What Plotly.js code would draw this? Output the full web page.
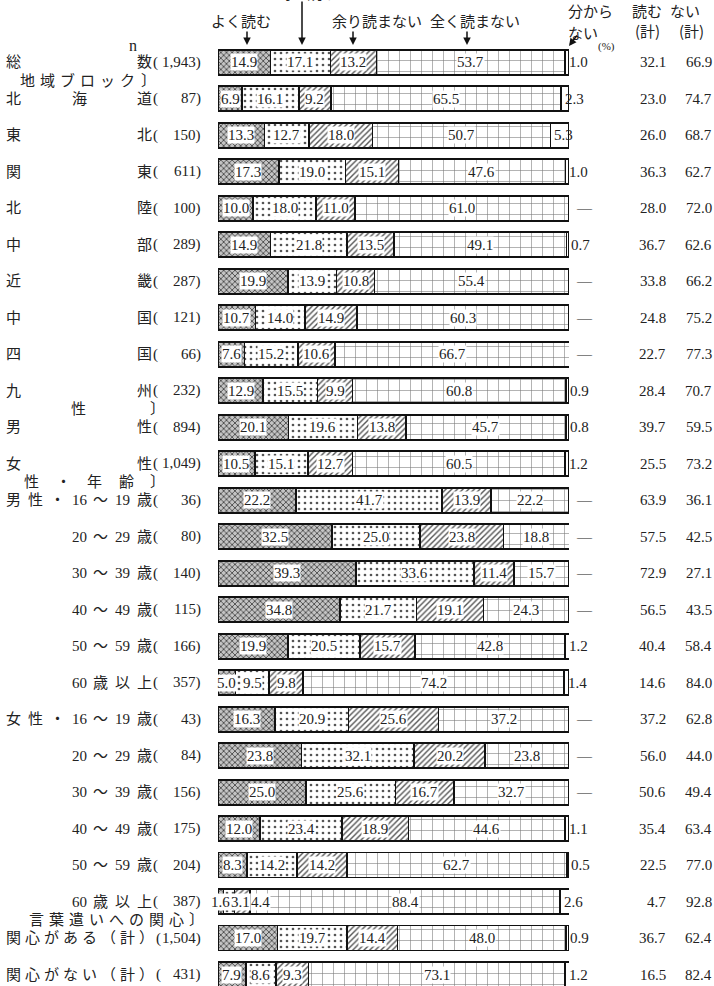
<!DOCTYPE html>
<html><head><meta charset="utf-8">
<script src="https://cdn.plot.ly/plotly-3.0.1.min.js"></script>
<style>html,body{margin:0;padding:0;background:#fff;overflow:hidden;} #chart{width:714px;height:986px;}</style>
</head><body><div id="chart"></div>
<script>
// ---------- data ----------
const categories = ['総数','北海道','東北','関東','北陸','中部','近畿','中国','四国','九州','男性','女性',
  '男性・16～19歳','男性・20～29歳','男性・30～39歳','男性・40～49歳','男性・50～59歳','男性・60歳以上',
  '女性・16～19歳','女性・20～29歳','女性・30～39歳','女性・40～49歳','女性・50～59歳','女性・60歳以上',
  '関心がある（計）','関心がない（計）'];
const rowLabels = ['総数','北海道','東北','関東','北陸','中部','近畿','中国','四国','九州','男性','女性',
  '男性・16～19歳','20～29歳','30～39歳','40～49歳','50～59歳','60歳以上',
  '女性・16～19歳','20～29歳','30～39歳','40～49歳','50～59歳','60歳以上',
  '関心がある（計）','関心がない（計）'];
const nValues = ['1,943','87','150','611','100','289','287','121','66','232','894','1,049',
  '36','80','140','115','166','357','43','84','156','175','204','387','1,504','431'];
const seriesNames = ['よく読む','時々読む','余り読まない','全く読まない','分からない'];
const yokuYomu   = [14.9,6.9,13.3,17.3,10.0,14.9,19.9,10.7,7.6,12.9,20.1,10.5,22.2,32.5,39.3,34.8,19.9,5.0,16.3,23.8,25.0,12.0,8.3,1.6,17.0,7.9];
const tokidoki   = [17.1,16.1,12.7,19.0,18.0,21.8,13.9,14.0,15.2,15.5,19.6,15.1,41.7,25.0,33.6,21.7,20.5,9.5,20.9,32.1,25.6,23.4,14.2,3.1,19.7,8.6];
const amari      = [13.2,9.2,18.0,15.1,11.0,13.5,10.8,14.9,10.6,9.9,13.8,12.7,13.9,23.8,11.4,19.1,15.7,9.8,25.6,20.2,16.7,18.9,14.2,4.4,14.4,9.3];
const mattaku    = [53.7,65.5,50.7,47.6,61.0,49.1,55.4,60.3,66.7,60.8,45.7,60.5,22.2,18.8,15.7,24.3,42.8,74.2,37.2,23.8,32.7,44.6,62.7,88.4,48.0,73.1];
const wakaranai  = [1.0,2.3,5.3,1.0,0,0.7,0,0,0,0.9,0.8,1.2,0,0,0,0,1.2,1.4,0,0,0,1.1,0.5,2.6,0.9,1.2];
const yomuKei    = [32.1,23.0,26.0,36.3,28.0,36.7,33.8,24.8,22.7,28.4,39.7,25.5,63.9,57.5,72.9,56.5,40.4,14.6,37.2,56.0,50.6,35.4,22.5,4.7,36.7,16.5];
const yomanaiKei = [66.9,74.7,68.7,62.7,72.0,62.6,66.2,75.2,77.3,70.7,59.5,73.2,36.1,42.5,27.1,43.5,58.4,84.0,62.8,44.0,49.4,63.4,77.0,92.8,62.4,82.4];
const groupHeaders = ['地域ブロック〕','性〕','性・年齢〕','言葉遣いへの関心〕'];
const groupBefore = [1,10,12,24];
const headerYomu = ['読む','(計)'];
const headerYomanai = ['読ま','ない','(計)'];

// ---------- layout helpers ----------
const L = 218, R = 569, T = 44, B = 986;
const SCALE = (R - L) / 100;
const px = x => (x - L) / (R - L);
const py = y => (B - y) / (B - T);
const SERIF = 'Liberation Serif, Noto Sans CJK JP, serif';
const SANS = 'Noto Sans CJK JP, sans-serif';
const TXT = '#222';
const NUMSIZE = 15;
const textWidth = s => Array.from(s).reduce((a, c) => a + (c === '.' || c === ',' ? NUMSIZE * 0.25 : NUMSIZE * 0.5), 0);

const seriesData = [yokuYomu, tokidoki, amari, mattaku, wakaranai];
const patterns = [
  {shape:'x', fgcolor:'#4a4a4a', bgcolor:'#c4c4c4', size:4, solidity:0.4},
  {shape:'.', fgcolor:'#555', bgcolor:'#ffffff', size:6, solidity:0.16},
  {shape:'/', fgcolor:'#555', bgcolor:'#ffffff', size:4, solidity:0.35},
  {shape:'+', fgcolor:'#777', bgcolor:'#ffffff', size:11, solidity:0.1},
  {shape:'', fgcolor:'#000', bgcolor:'#ffffff'}
];

const traces = seriesData.map((vals, k) => ({
  type:'bar', orientation:'h', name:seriesNames[k], y:categories, x:vals,
  marker:{color:'#ffffff', pattern:patterns[k], line:{color:'#111', width:1.6}},
  hoverinfo:'skip', showlegend:false
}));

const ann = [];
function addText(text, xpx, ypx, opts) {
  ann.push(Object.assign({text, x:px(xpx), y:py(ypx), xref:'paper', yref:'paper', borderpad:0,
    showarrow:false, font:{family:SANS, size:15, color:TXT}, xanchor:'center', yanchor:'middle'}, opts||{}));
}

categories.forEach((cat, i) => {
  // segment labels (pushed right if they would collide with the previous one)
  let cum = 0, prevRight = -1e9;
  for (let k = 0; k < 4; k++) {
    const v = seriesData[k][i];
    const t = v.toFixed(1);
    const w = textWidth(t) + 1;
    const centerPx = (cum + v / 2) * SCALE;
    let shift = 0;
    if (centerPx - w / 2 < prevRight) shift = prevRight - (centerPx - w / 2);
    prevRight = centerPx + shift + w / 2;
    ann.push({text:t, x:cum + v/2, y:cat, xref:'x', yref:'y', showarrow:false, xshift:shift,
      bgcolor:'#ffffff', borderpad:0, font:{family:SERIF, size:NUMSIZE, color:TXT}});
    cum += v;
  }
  const wk = wakaranai[i];
  ann.push({text: wk > 0 ? wk.toFixed(1) : '—', x:100 - wk, y:cat, xref:'x', yref:'y', showarrow:false,
    xanchor:'left', xshift: wk > 0 ? 2 : 5, font:{family:SERIF, size:NUMSIZE, color:TXT}});
  ann.push({text:yomuKei[i].toFixed(1), x:px(668), y:cat, xref:'paper', yref:'y', showarrow:false,
    xanchor:'right', font:{family:SERIF, size:NUMSIZE, color:TXT}});
  ann.push({text:yomanaiKei[i].toFixed(1), x:px(714), y:cat, xref:'paper', yref:'y', showarrow:false,
    xanchor:'right', font:{family:SERIF, size:NUMSIZE, color:TXT}});
  // left labels
  const toks = rowLabels[i].match(/\d+|./g);
  let centers, parenX = 152;
  if (/\d/.test(rowLabels[i])) {
    centers = toks.map((t, j) => 136 - (toks.length - 1 - j) * 21.8);
  } else if (rowLabels[i].indexOf('（') >= 0) {
    centers = toks.map((t, j) => 5 + j * 19);
    parenX = 155;
  } else {
    centers = toks.map((t, j) => 5 + j * (131 / (toks.length - 1)));
  }
  toks.forEach((t, j) => {
    ann.push({text:t, x:px(centers[j]), y:cat, xref:'paper', yref:'y', showarrow:false, borderpad:0,
      font:{family:SERIF, size:15, color:TXT}});
  });
  ann.push({text:'(', x:px(parenX), y:cat, xref:'paper', yref:'y', showarrow:false, xanchor:'left', borderpad:0,
    font:{family:SERIF, size:15, color:TXT}});
  ann.push({text:nValues[i] + ')', x:px(202), y:cat, xref:'paper', yref:'y', showarrow:false, xanchor:'right', borderpad:0,
    font:{family:SERIF, size:15, color:TXT}});
});

// group headers
const headerCenters = [
  [19,39,59,79,99,119,140],
  [70,149],
  [23,54.5,86,117.5,149],
  [28,48,68,88,108,128,148,168,188]
];
groupHeaders.forEach((h, g) => {
  Array.from(h).forEach((c, j) => {
    ann.push({text:c, x:px(headerCenters[g][j]), y:groupBefore[g] - 0.5, xref:'paper', yref:'y',
      showarrow:false, borderpad:0, font:{family:SERIF, size:15, color:TXT}});
  });
});

// top headers
addText('n', 133, 45, {font:{family:SERIF, size:16, color:TXT}});
addText(seriesNames[0], 241, 20);
addText(seriesNames[1], 307, -7);
addText(seriesNames[2], 377, 21);
addText(seriesNames[3], 475, 21);
addText('分から', 567, 11, {xanchor:'left'});
addText('ない', 567, 32, {xanchor:'left'});
addText('(%)', 606, 46, {font:{family:SERIF, size:11, color:TXT}});
addText(headerYomu[0], 647, 10);
addText(headerYomu[1], 647, 31);
addText(headerYomanai[0], 685, -11);
addText(headerYomanai[1], 685, 10);
addText(headerYomanai[2], 691, 31);

// arrows
function arrow(xh, yh, xt, yt) {
  ann.push({text:'', x:px(xh), y:py(yh), xref:'paper', yref:'paper', showarrow:true,
    ax:xt - xh, ay:yt - yh, arrowhead:2, arrowsize:1, arrowwidth:1.5, arrowcolor:'#111'});
}
arrow(247, 45, 247, 30);
arrow(302, 45, 302, -2);
arrow(353, 45, 353, 30);
arrow(467, 45, 467, 30);
arrow(569, 46, 578, 34);

const layout = {
  width:714, height:986,
  margin:{l:L, r:714 - R, t:T, b:0, pad:0},
  paper_bgcolor:'#ffffff', plot_bgcolor:'#ffffff',
  barmode:'stack', bargap:0.315,
  showlegend:false,
  xaxis:{range:[0,100], visible:false, fixedrange:true},
  yaxis:{type:'category', range:[25.31,-0.5], visible:false, fixedrange:true},
  annotations:ann
};
Plotly.newPlot('chart', traces, layout, {staticPlot:true, displayModeBar:false});
</script></body></html>
